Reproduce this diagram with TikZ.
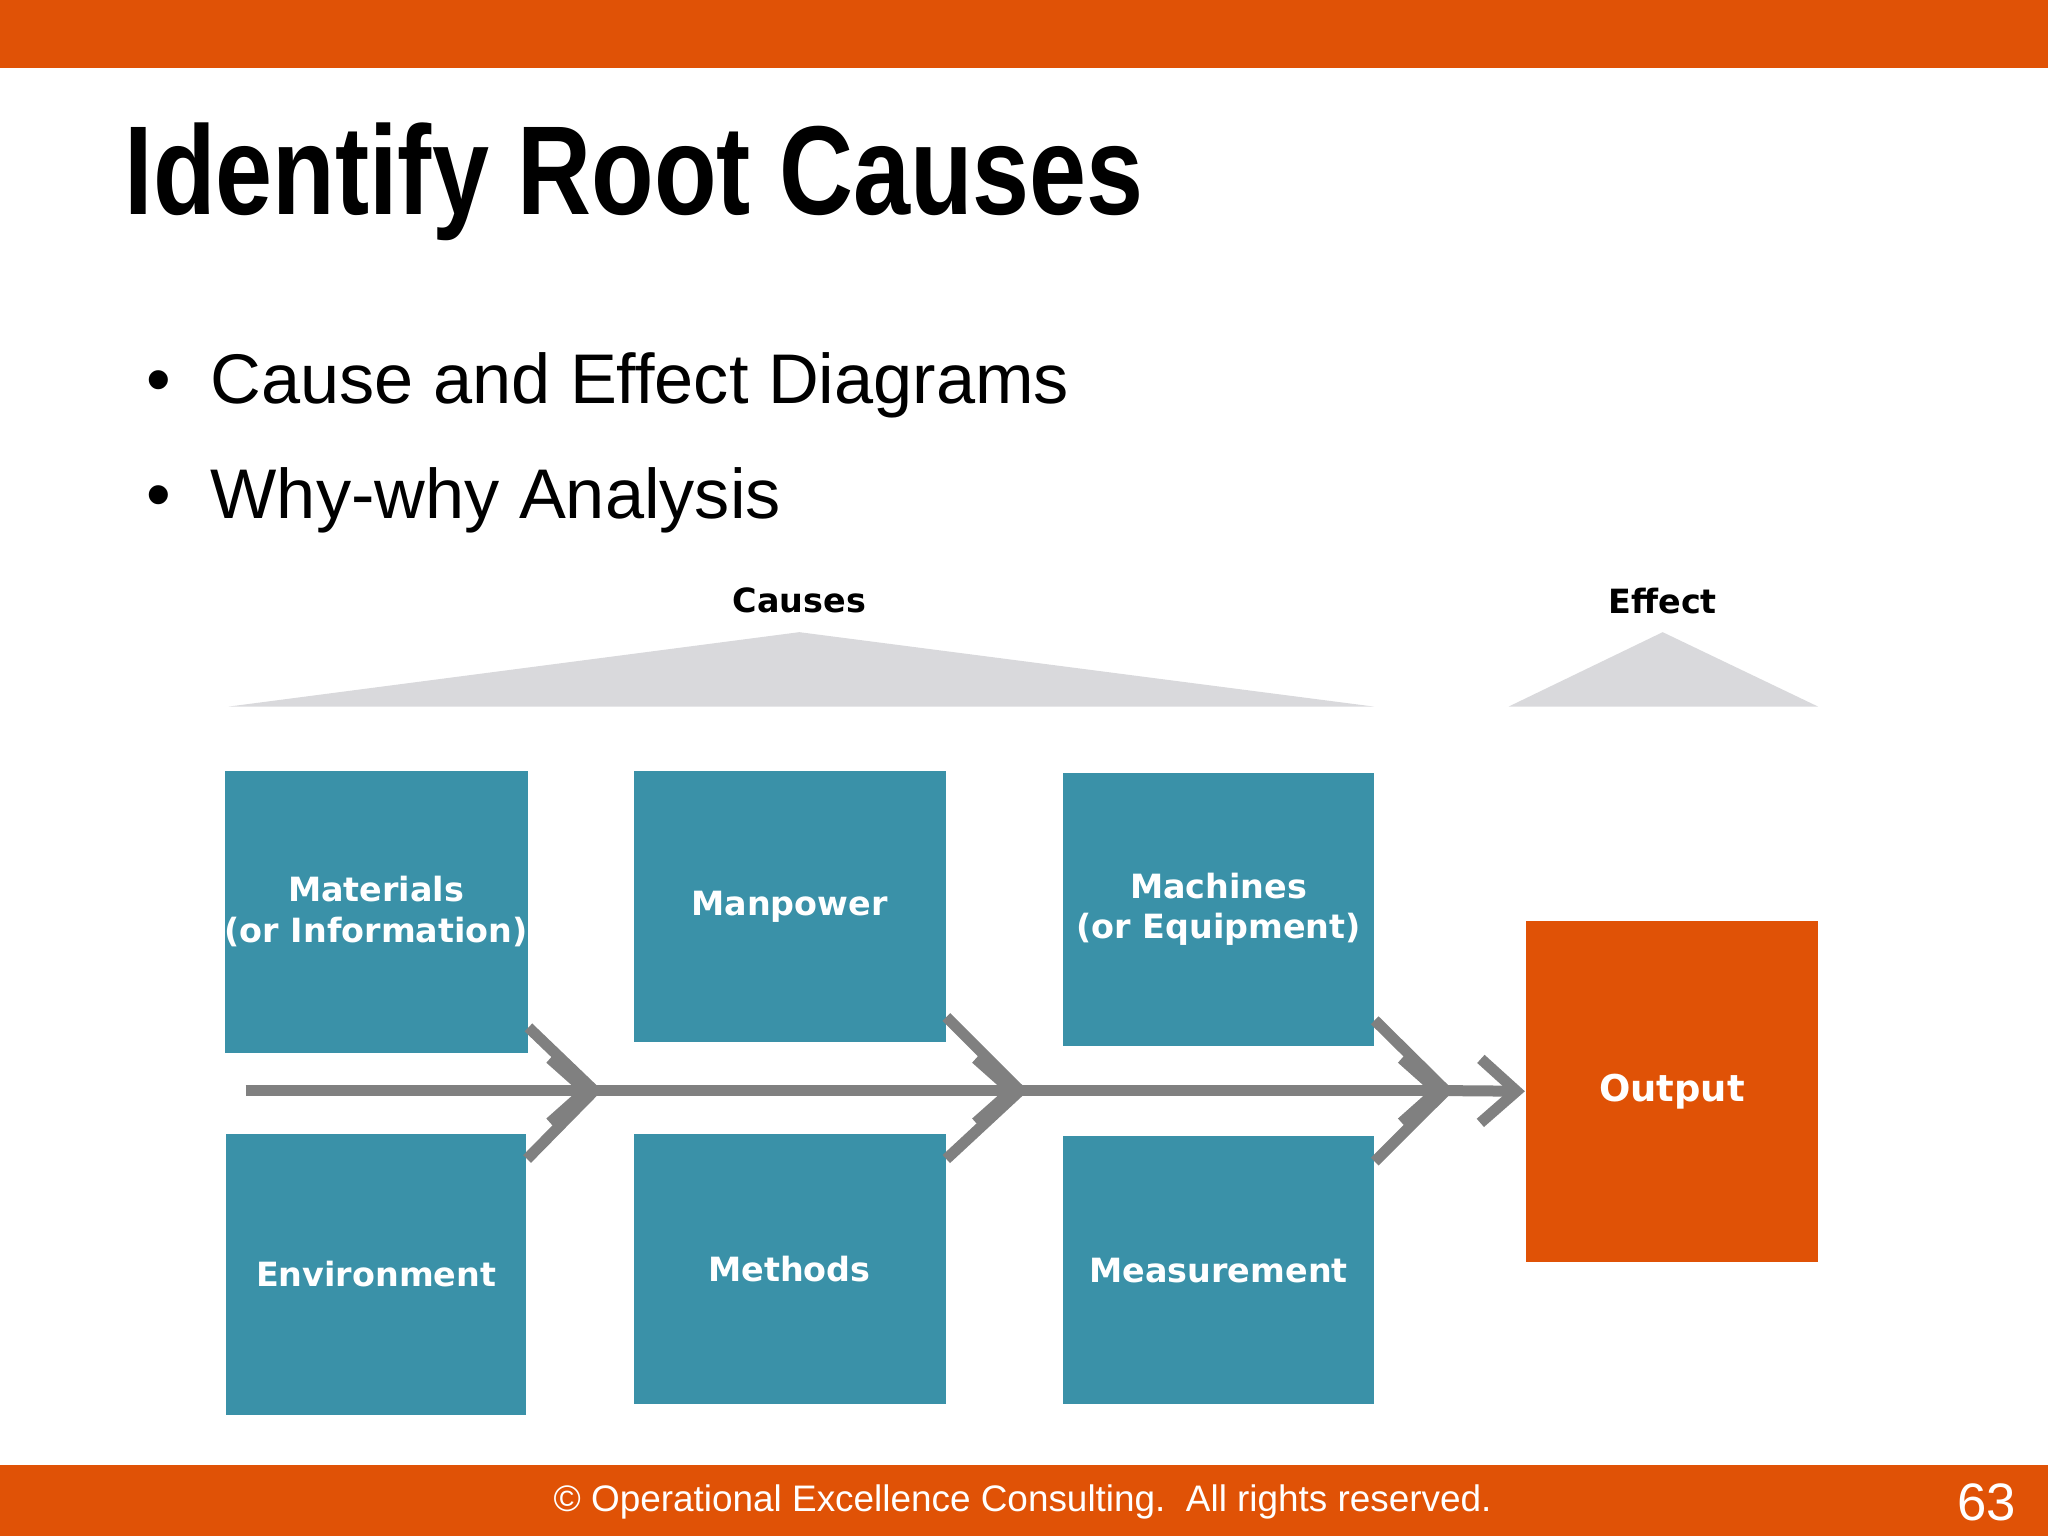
\documentclass[tikz,border=0pt]{standalone}
\usepackage{fontspec}
\setmainfont{Liberation Sans}
\newfontfamily\boxfont{DejaVu Sans}
\usetikzlibrary{arrows.meta,positioning}
\definecolor{slideorange}{HTML}{E05206}
\definecolor{causeteal}{HTML}{3A91A8}
\definecolor{spinegrey}{HTML}{808080}
\definecolor{roofgrey}{HTML}{D9D9DC}
\tikzset{
  cause/.style={fill=causeteal,text=white,font=\boxfont\bfseries\fontsize{9.5}{11.5}\selectfont,align=center,inner sep=0pt},
  effect/.style={fill=slideorange,text=white,font=\boxfont\bfseries\fontsize{10.5}{12}\selectfont,inner sep=0pt},
  bone/.style={draw=spinegrey,line width=1.1mm,-{Straight Barb[length=3.6mm,width=6.4mm,line width=1.1mm]}},
  rib/.style={draw=spinegrey,line width=1.1mm}
}
\begin{document}
\begin{tikzpicture}[x=0.01306cm,y=-0.01306cm]
    \useasboundingbox (0,0) rectangle (1568,1176);
    % Slide bars
    \fill[slideorange] (0,0) rectangle (1568,52);
    \fill[slideorange] (0,1122) rectangle (1568,1176);
    \node[text=white,font=\fontsize{10.5}{12}\selectfont] (foot) at (783,1150) {\textcopyright\ Operational Excellence Consulting.\ \ All rights reserved.};
    \node[text=white,font=\fontsize{15}{17}\selectfont,anchor=east] (page) at (1553,1150) {63};

    % Title and bullets
    \node[anchor=base west,inner sep=0pt,font=\bfseries\fontsize{36}{40}\selectfont,xscale=0.81] (title) at (95,164) {Identify Root Causes};
    \node[anchor=base west,inner sep=0pt,font=\fontsize{20}{24}\selectfont] (b1) at (112,309) {\textbullet\ \ Cause and Effect Diagrams};
    \node[anchor=base west,inner sep=0pt,font=\fontsize{20}{24}\selectfont] (b2) at (112,397) {\textbullet\ \ Why-why Analysis};

    % Roofs
    \fill[roofgrey] (175,541) -- (612,484) -- (1052,541) -- cycle;
    \fill[roofgrey] (1155,541) -- (1273,484) -- (1392,541) -- cycle;
    \node[font=\boxfont\bfseries\fontsize{9.5}{11}\selectfont] (causes) at (612,460) {Causes};
    \node[font=\boxfont\bfseries\fontsize{9.5}{11}\selectfont] (effectlbl) at (1273,460) {Effect};

    % Cause boxes
    \node[cause,minimum width=3.004cm,minimum height=2.821cm] (mat) at (288,698) {Materials\\(or Information)};
    \node[cause,minimum width=3.121cm,minimum height=2.716cm] (man) at (604.5,694) {Manpower};
    \node[cause,minimum width=3.108cm,minimum height=2.730cm] (mach) at (933,696) {Machines\\(or Equipment)};
    \node[cause,minimum width=3.004cm,minimum height=2.808cm] (env) at (288,975.5) {Environment};
    \node[cause,minimum width=3.121cm,minimum height=2.703cm] (meth) at (604.5,971.5) {Methods};
    \node[cause,minimum width=3.108cm,minimum height=2.677cm] (meas) at (933,972.5) {Measurement};
    \node[effect,minimum width=2.925cm,minimum height=3.409cm] (out) at (1280,835.5) {Output};

    % Spine
    \coordinate (s0) at (188,835);
    \coordinate (s1) at (455,835);
    \coordinate (s2) at (781,835);
    \coordinate (s3) at (1107,835);
    \draw[bone] (s0) -- (s1);
    \draw[bone] (s1) -- (s2);
    \draw[bone] (s2) -- (s3);
    \draw[bone] (s3) -- (out.west);

    % Ribs
    \draw[rib] ([yshift=0.26cm]mat.south east) -- (s1);
    \draw[rib] ([yshift=-0.26cm]env.north east) -- (s1);
    \draw[rib] ([yshift=0.26cm]man.south east) -- (s2);
    \draw[rib] ([yshift=-0.26cm]meth.north east) -- (s2);
    \draw[rib] ([yshift=0.26cm]mach.south east) -- (s3);
    \draw[rib] ([yshift=-0.26cm]meas.north east) -- (s3);
\end{tikzpicture}
\end{document}
